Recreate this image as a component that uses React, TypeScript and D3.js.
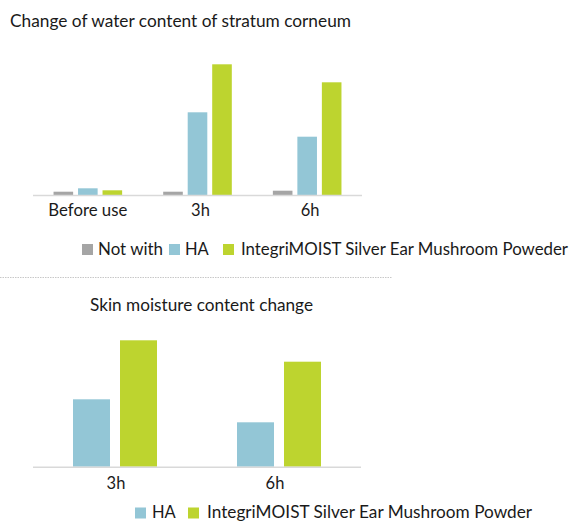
import React from "react";
import * as d3 from "d3";

// ---- Data (arbitrary units) ----
const topCategories = ["Before use", "3h", "6h"];
const topSeries = ["Not with", "HA", "IntegriMOIST Silver Ear Mushroom Poweder"];
const topNotWith = [3.3, 3.3, 4.3];
const topHA = [6.7, 82.7, 58.3];
const topIntegri = [4.7, 130.7, 112.7];

const bottomCategories = ["3h", "6h"];
const bottomSeries = ["HA", "IntegriMOIST Silver Ear Mushroom Powder"];
const bottomHA = [67.4, 44.4];
const bottomIntegri = [126.4, 105];

const topTitle = "Change of water content of stratum corneum";
const bottomTitle = "Skin moisture content change";

const GRAY = "#a5a5a5";
const BLUE = "#93c6d6";
const GREEN = "#bdd42f";
const FONT = "Lato, 'Open Sans', sans-serif";

export default function App() {
  // ---- top chart ----
  const topBase = 195;
  const yTop = d3.scaleLinear().domain([0, 140]).range([topBase, topBase - 140]);
  const xTop = d3.scaleBand<string>().domain(topCategories).range([33, 362]).padding(0);
  const x1Top = d3.scaleBand<string>().domain(topSeries).range([0, 68.6]).paddingInner(0.2);
  const topColors = [GRAY, BLUE, GREEN];
  const topValues = [topNotWith, topHA, topIntegri];

  // ---- bottom chart ----
  const botBase = 466.7;
  const yBot = d3.scaleLinear().domain([0, 140]).range([botBase, botBase - 140]);
  const xBot = d3.scaleBand<string>().domain(bottomCategories).range([33, 361]).padding(0);
  const x1Bot = d3.scaleBand<string>().domain(bottomSeries).range([0, 84]).paddingInner(0.213);
  const botColors = [BLUE, GREEN];
  const botValues = [bottomHA, bottomIntegri];

  const textStyle: React.CSSProperties = { fontFamily: FONT, fill: "#1a1a1a" };

  return (
    <svg
      width={573}
      height={522}
      style={{ position: "absolute", left: 0, top: 0, background: "#fff" }}
    >
      {/* Top title */}
      <text x={10} y={27} fontSize={16.5} style={textStyle} textLength={341} lengthAdjust="spacingAndGlyphs">
        {topTitle}
      </text>

      {/* Top bars */}
      {topCategories.map((c, ci) => {
        const gx = (xTop(c) ?? 0) + xTop.bandwidth() / 2 - 68.6 / 2;
        return (
          <g key={c}>
            {topSeries.map((s, si) => {
              const v = topValues[si][ci];
              return (
                <rect
                  key={s}
                  x={gx + (x1Top(s) ?? 0)}
                  y={yTop(v)}
                  width={x1Top.bandwidth()}
                  height={topBase - yTop(v)}
                  fill={topColors[si]}
                />
              );
            })}
          </g>
        );
      })}
      <line x1={33} x2={362} y1={topBase + 0.5} y2={topBase + 0.5} stroke="#d9d9d9" strokeWidth={1.5} />
      {topCategories.map((c) => (
        <text
          key={c}
          x={(xTop(c) ?? 0) + xTop.bandwidth() / 2 + (c === "Before use" ? 0 : 3)}
          y={216}
          fontSize={16.5}
          textAnchor="middle"
          style={textStyle}
          {...(c === "Before use" ? { textLength: 79, lengthAdjust: "spacingAndGlyphs" } : {})}
        >
          {c}
        </text>
      ))}

      {/* Top legend */}
      <rect x={82} y={244} width={11} height={11} fill={GRAY} />
      <text x={98} y={255} fontSize={16.5} style={textStyle} textLength={65} lengthAdjust="spacingAndGlyphs">
        {topSeries[0]}
      </text>
      <rect x={169} y={244} width={11} height={11} fill={BLUE} />
      <text x={185} y={255} fontSize={16.5} style={textStyle}>
        {topSeries[1]}
      </text>
      <rect x={223} y={244} width={11} height={11} fill={GREEN} />
      <text x={241} y={255} fontSize={16.5} style={textStyle} textLength={327} lengthAdjust="spacingAndGlyphs">
        {topSeries[2]}
      </text>

      {/* Dotted separator */}
      <line x1={0} x2={392} y1={277.5} y2={277.5} stroke="#c8c8c8" strokeWidth={1} strokeDasharray="1.5,1" />

      {/* Bottom title */}
      <text x={90} y={311} fontSize={16.5} style={textStyle} textLength={223} lengthAdjust="spacingAndGlyphs">
        {bottomTitle}
      </text>

      {/* Bottom bars */}
      {bottomCategories.map((c, ci) => {
        const gx = (xBot(c) ?? 0) + xBot.bandwidth() / 2 - 84 / 2;
        return (
          <g key={c}>
            {bottomSeries.map((s, si) => {
              const v = botValues[si][ci];
              return (
                <rect
                  key={s}
                  x={gx + (x1Bot(s) ?? 0)}
                  y={yBot(v)}
                  width={x1Bot.bandwidth()}
                  height={botBase - yBot(v)}
                  fill={botColors[si]}
                />
              );
            })}
          </g>
        );
      })}
      <line x1={33} x2={361} y1={botBase + 0.5} y2={botBase + 0.5} stroke="#d9d9d9" strokeWidth={1.5} />
      {bottomCategories.map((c, ci) => (
        <text
          key={c}
          x={(xBot(c) ?? 0) + xBot.bandwidth() / 2 + (ci === 0 ? 1 : -4)}
          y={489}
          fontSize={16.5}
          textAnchor="middle"
          style={textStyle}
        >
          {c}
        </text>
      ))}

      {/* Bottom legend */}
      <rect x={135} y={507.5} width={11} height={11} fill={BLUE} />
      <text x={152} y={518} fontSize={16.5} style={textStyle}>
        {bottomSeries[0]}
      </text>
      <rect x={188} y={507.5} width={11} height={11} fill={GREEN} />
      <text x={207} y={518} fontSize={16.5} style={textStyle} textLength={325} lengthAdjust="spacingAndGlyphs">
        {bottomSeries[1]}
      </text>
    </svg>
  );
}
